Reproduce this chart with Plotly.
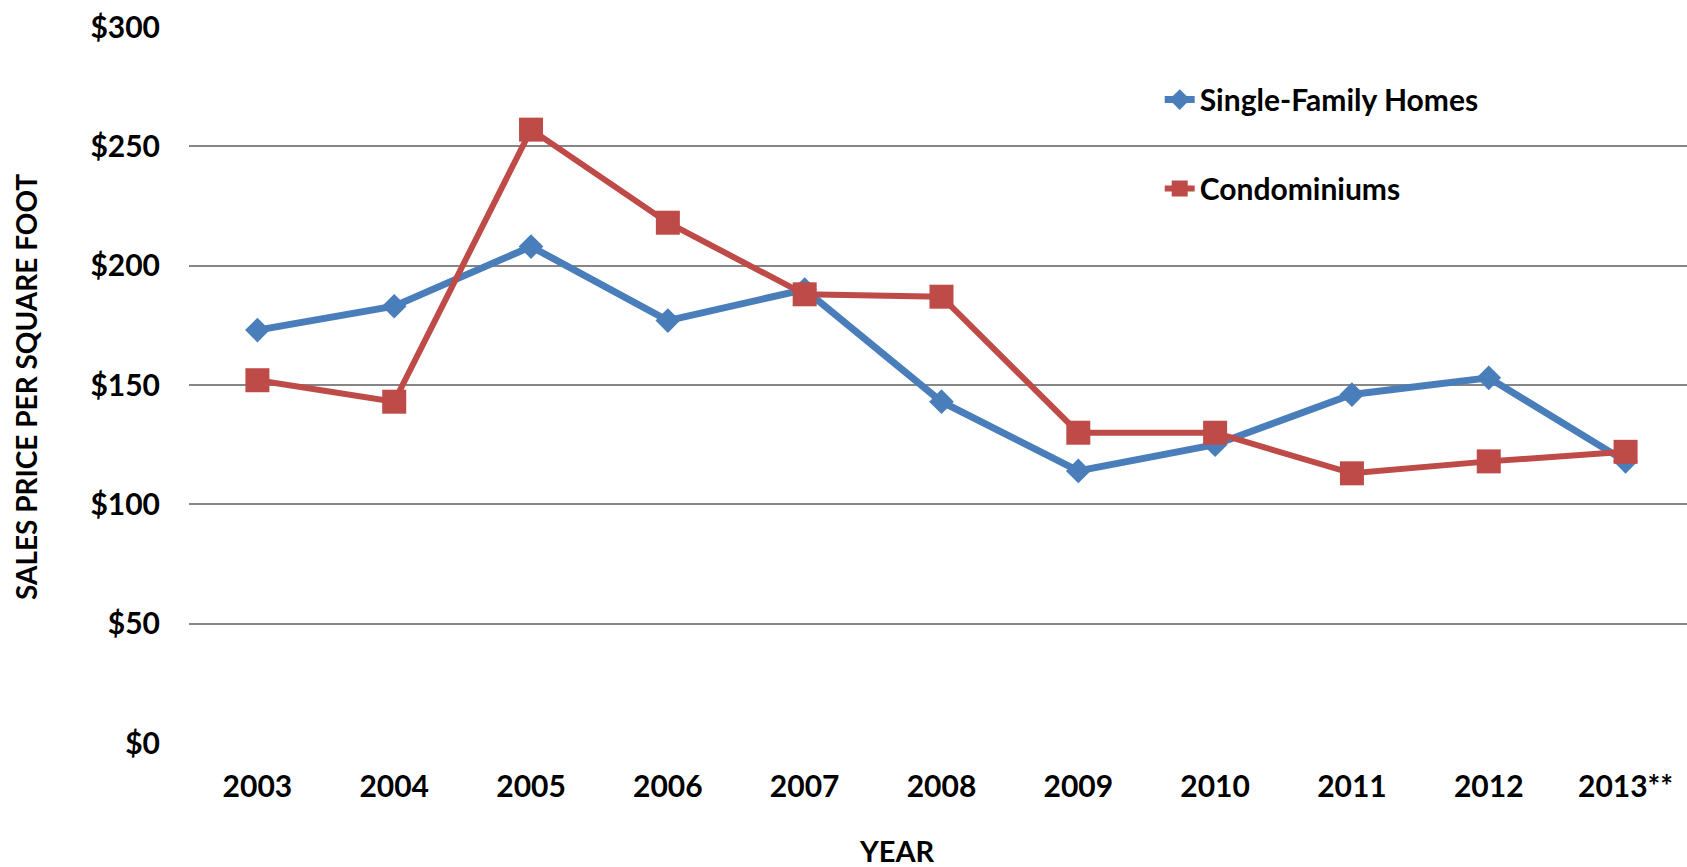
import plotly.graph_objects as go

# Sales price per square foot by year
years = ["2003", "2004", "2005", "2006", "2007", "2008", "2009", "2010", "2011", "2012", "2013**"]
single_family = [173, 183, 208, 177, 190, 143, 114, 125, 146, 153, 118]
condominiums = [152, 143, 257, 218, 188, 187, 130, 130, 113, 118, 122]
y_ticks = [0, 50, 100, 150, 200, 250, 300]
y_tick_text = ["$0", "$50", "$100", "$150", "$200", "$250", "$300"]

FONT = "Lato"
BLUE = "#4A7EBB"
RED = "#BE4B48"

x_pos = list(range(len(years)))

fig = go.Figure()
fig.add_trace(go.Scatter(
    x=x_pos, y=single_family, name="Single-Family Homes",
    mode="lines+markers", legendgroup="a",
    line=dict(color=BLUE, width=7),
    marker=dict(symbol="diamond", size=19, color=BLUE),
))
fig.add_trace(go.Scatter(
    x=x_pos, y=condominiums, name="Condominiums",
    mode="lines+markers", legendgroup="b",
    line=dict(color=RED, width=6),
    marker=dict(symbol="square", size=24, color=RED),
))

fig.update_layout(
    width=1687, height=867,
    margin=dict(l=189, r=0, t=27, b=124),
    paper_bgcolor="white", plot_bgcolor="white",
    font=dict(family=FONT, size=30, color="black"),
    showlegend=True,
    legend=dict(
        x=0.648, y=0.935, xanchor="left", yanchor="top",
        font=dict(family=FONT, size=30, color="black", weight="bold"),
        traceorder="grouped", tracegroupgap=47,
        bgcolor="rgba(0,0,0,0)",
    ),
    xaxis=dict(
        range=[-0.5, 10.449],
        tickmode="array", tickvals=x_pos, ticktext=years,
        showgrid=False, zeroline=False, showline=False, ticks="",
        tickfont=dict(family=FONT, size=30, color="black", weight="bold"),
        ticklabelstandoff=23,
    ),
    yaxis=dict(
        range=[0, 300],
        tickmode="array", tickvals=y_ticks, ticktext=y_tick_text,
        showgrid=True, gridcolor="#868686", gridwidth=2,
        zeroline=False, showline=False, ticks="",
        tickfont=dict(family=FONT, size=30, color="black", weight="bold"),
        ticklabelstandoff=28,
    ),
    annotations=[
        dict(text="SALES PRICE PER SQUARE FOOT", xref="paper", yref="paper",
             x=(26 - 189) / 1498, y=(743 - 387) / 716, textangle=-90,
             showarrow=False, xanchor="center", yanchor="middle",
             font=dict(family=FONT, size=28, color="black", weight="bold")),
        dict(text="YEAR", xref="paper", yref="paper",
             x=(897 - 189) / 1498, y=(743 - 850) / 716,
             showarrow=False, xanchor="center", yanchor="middle",
             font=dict(family=FONT, size=29, color="black", weight="bold")),
    ],
)

fig.write_html("out.html")
